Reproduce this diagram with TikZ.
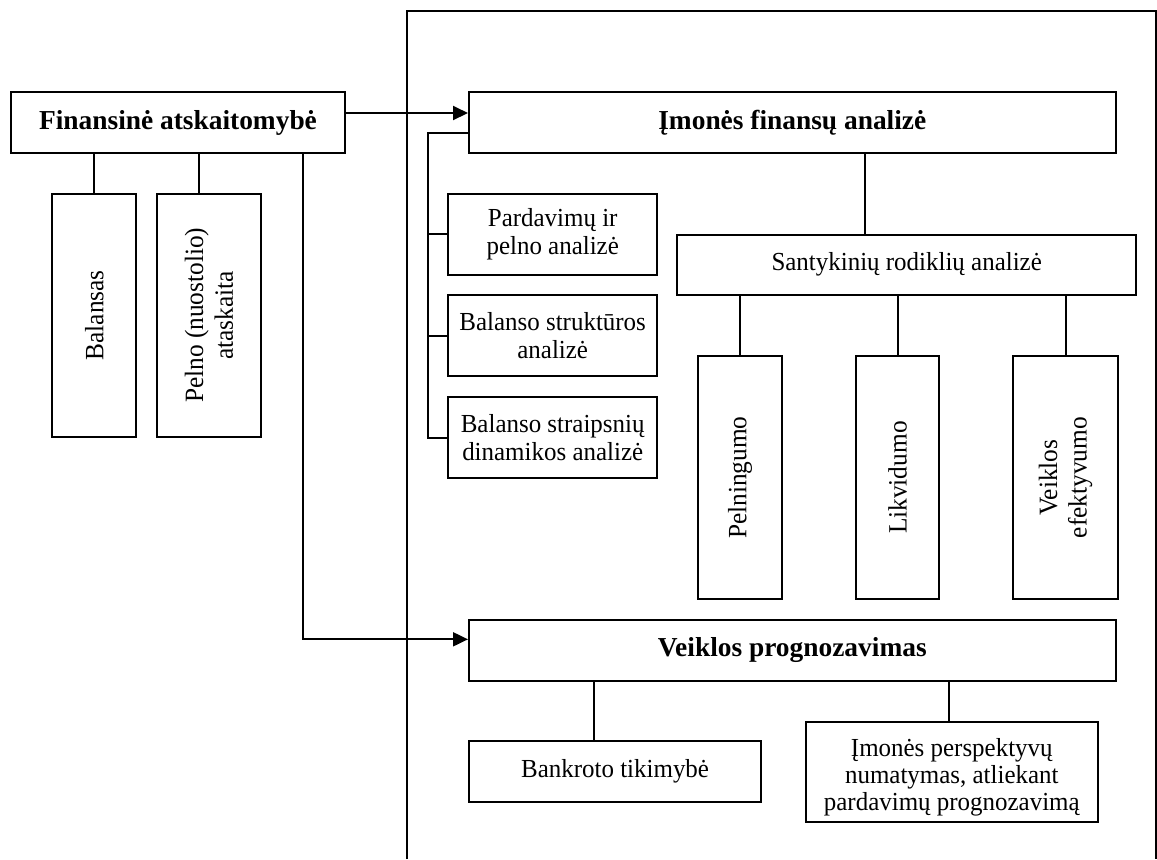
\documentclass[tikz,border=0pt]{standalone}
\usepackage{fontspec}
\setmainfont{Liberation Serif}
\newfontfamily\nfont{Liberation Serif}[FakeStretch=0.96]
\usetikzlibrary{arrows.meta}
\begin{document}
\begin{tikzpicture}[x=0.5pt,y=-0.5pt,
  line width=1pt,
  box/.style={draw, line width=1pt, inner sep=0pt, align=center, font=\nfont\fontsize{13}{14.8}\selectfont},
  bbox/.style={box, font=\fontsize{13.7}{15}\selectfont\bfseries},
  sbox/.style={box, font=\nfont\fontsize{13}{14}\selectfont},
  vtext/.style={rotate=90, align=center, inner sep=0pt, font=\nfont\fontsize{13.2}{14.8}\selectfont},
  htext/.style={align=center, inner sep=0pt, font=\nfont\fontsize{13}{13.4}\selectfont},
  arr/.style={-{Triangle[length=7.5pt,width=7pt]}},
  conn/.style={line width=1pt}
]
\useasboundingbox (0,0) rectangle (1157,859);

% outer frame (open at the bottom)
\draw[conn] (406.7,859) -- (406.7,11) -- (1156,11) -- (1156,859);

% left part
\node[bbox, minimum width=167pt, minimum height=30.5pt] (fin) at (178,122.5) {Finansinė atskaitomybė};
\node[box, minimum width=42pt, minimum height=121.7pt] (bal) at (94.3,315.3) {};
\node[vtext] (balt) at (bal.center) {Balansas};
\node[box, minimum width=52pt, minimum height=121.7pt] (pel) at (209,315.3) {};
\node[vtext] (pelt) at (pel.center) {Pelno (nuostolio)\\ataskaita};

% finance analysis
\node[bbox, minimum width=323.3pt, minimum height=30.4pt] (imo) at (792.3,122.4) {Įmonės finansų analizė};
\node[sbox, minimum width=104.3pt, minimum height=40.5pt] (par) at (552.7,234.2) {Pardavimų ir\\pelno analizė};
\node[sbox, minimum width=104.3pt, minimum height=40.5pt] (bs) at (552.7,335.5) {Balanso struktūros\\analizė};
\node[sbox, minimum width=104.3pt, minimum height=40.6pt] (bsd) at (552.7,437.7) {Balanso straipsnių\\dinamikos analizė};

\node[box, minimum width=229.3pt, minimum height=30.1pt] (san) at (906.7,264.6) {Santykinių rodiklių analizė};
\node[box, minimum width=41.9pt, minimum height=121.8pt] (pn) at (740.1,477.6) {};
\node[vtext] (pnt) at (pn.center) {Pelningumo};
\node[box, minimum width=41.8pt, minimum height=121.8pt] (lik) at (897.5,477.6) {};
\node[vtext] (likt) at (lik.center) {Likvidumo};
\node[box, minimum width=52.2pt, minimum height=121.8pt] (vef) at (1065.5,477.6) {};
\node[vtext] (veft) at (vef.center) {Veiklos\\efektyvumo};

% forecasting
\node[bbox, minimum width=323.3pt, minimum height=30.4pt] (vpr) at (792.3,650.1) {Veiklos prognozavimas};
\node[box, minimum width=146.1pt, minimum height=30.6pt] (ban) at (615.1,771.7) {Bankroto tikimybė};
\node[box, minimum width=146.2pt, minimum height=50pt] (per) at (951.8,772.3) {};
\node[htext] (pert) at (951.8,777) {Įmonės perspektyvų\\numatymas, atliekant\\pardavimų prognozavimą};

% helper coordinates
\coordinate (a1) at (0,113);
\coordinate (a2) at (303,639.3);
\coordinate (c1) at (427.7,132.7);
\coordinate (pc) at (198.7,0);
\coordinate (sc) at (865.3,0);
\coordinate (bc) at (594.4,0);
\coordinate (rc) at (949,0);

% connectors
\draw[arr] (fin.east |- a1) -- (imo.west |- a1);
\draw[conn] (bal.north) -- (bal.north |- fin.south);
\draw[conn] (pel.north -| pc) -- (fin.south -| pc);
\draw[arr] (fin.south -| a2) -- (a2) -- (vpr.west |- a2);

\draw[conn] (imo.west |- c1) -- (c1) -- (c1 |- bsd.west) -- (bsd.west);
\draw[conn] (c1 |- par.west) -- (par.west);
\draw[conn] (c1 |- bs.west) -- (bs.west);

\draw[conn] (imo.south -| sc) -- (san.north -| sc);
\draw[conn] (san.south -| pn.north) -- (pn.north);
\draw[conn] (san.south -| lik.north) -- (lik.north);
\draw[conn] (san.south -| vef.north) -- (vef.north);

\draw[conn] (vpr.south -| bc) -- (ban.north -| bc);
\draw[conn] (vpr.south -| rc) -- (per.north -| rc);
\end{tikzpicture}
\end{document}
